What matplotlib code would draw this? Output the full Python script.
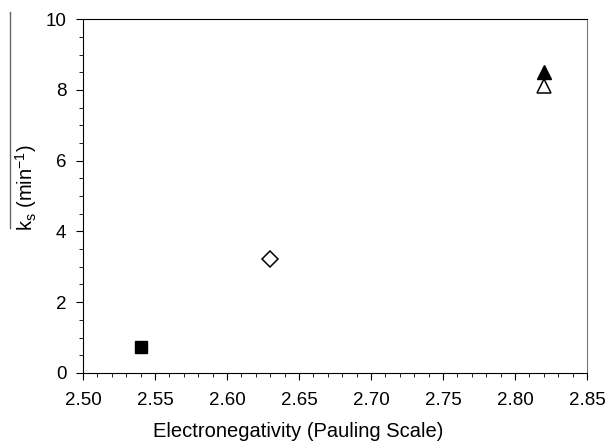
import numpy as np
import matplotlib.pyplot as plt
from matplotlib.lines import Line2D
from matplotlib.ticker import MultipleLocator

plt.rcParams['font.family'] = ['Liberation Sans', 'DejaVu Sans']

# electronegativity vs ks
x_sq, y_sq = [2.54], [0.73]
x_di, y_di = [2.63], [3.22]
x_tf, y_tf = [2.82], [8.50]
x_to, y_to = [2.82], [8.12]

fig = plt.figure(figsize=(6.08, 4.45), dpi=100)
ax = fig.add_axes([0.1365, 0.162, 0.829, 0.795])

ax.plot(x_sq, y_sq, 's', color='black', ms=8.5, mec='black')
ax.plot(x_di, y_di, 'D', mfc='white', mec='black', ms=8.5, mew=1.1)
ax.plot(x_tf, y_tf, '^', color='black', ms=10)
ax.plot(x_to, y_to, '^', mfc='white', mec='black', ms=10, mew=1.1)

ax.set_xlim(2.50, 2.85)
ax.set_ylim(0, 10)
ax.xaxis.set_major_locator(MultipleLocator(0.05))
ax.xaxis.set_minor_locator(MultipleLocator(0.01))
ax.yaxis.set_major_locator(MultipleLocator(2))
ax.yaxis.set_minor_locator(MultipleLocator(0.5))
ax.xaxis.set_major_formatter(plt.FormatStrFormatter('%.2f'))
ax.tick_params(which='major', direction='out', length=5, labelsize=13.5, top=False, right=False)
ax.tick_params(axis='x', which='major', pad=9)
ax.tick_params(axis='y', which='major', pad=7)
ax.tick_params(which='minor', direction='out', length=3, top=False, right=False)
ax.spines['right'].set_color('#777777')

ax.set_xlabel('Electronegativity (Pauling Scale)', fontsize=14.5)
ax.set_ylabel('k$_\\mathregular{s}$ (min$^\\mathregular{-1}$)', fontsize=14.5)
ax.xaxis.set_label_coords(0.427, -0.14)
ax.yaxis.set_label_coords(-0.087, 0.523)

# stray rule to the left of the y label
fig.add_artist(Line2D([10/608, 10/608], [1 - 12/445, 1 - 228/445], color='#666666', lw=1))

plt.savefig('out.png')
